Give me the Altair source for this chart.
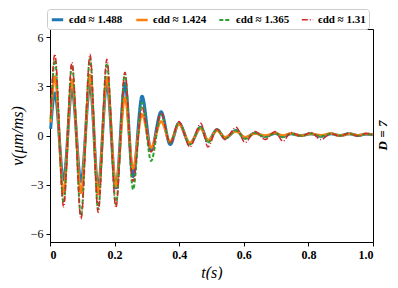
import altair as alt
import pandas as pd

# extremum times (s)
t = [0.002, 0.015, 0.042, 0.068, 0.096, 0.124, 0.149, 0.176, 0.204, 0.232,
     0.257, 0.285, 0.313, 0.344, 0.372, 0.399, 0.433, 0.467, 0.489, 0.517,
     0.542, 0.576, 0.604, 0.635, 0.666, 0.697, 0.721, 0.746, 0.777, 0.808,
     0.839, 0.870, 0.898, 0.926, 0.954, 0.978, 1.0]

v_1488 = [0.4, 2.6, -2.7, 2.8, -2.8, 3.1, -3.2, 3.2, -3.2, 3.2,
          -2.5, 2.4, -0.9, 1.45, -0.55, 0.75, -0.5, 0.5, -0.35, 0.35,
          -0.15, 0.3, -0.15, 0.15, -0.05, 0.12, -0.05, 0.1, 0.0, 0.1,
          -0.05, 0.1, 0.0, 0.1, 0.0, 0.08, 0.05]
v_1424 = [0.8, 3.6, -3.5, 3.4, -3.5, 3.7, -3.6, 3.55, -3.1, 2.3,
          -2.0, 1.3, -0.75, 0.86, -0.37, 0.7, -0.45, 0.45, -0.3, 0.3,
          -0.1, 0.25, -0.1, 0.12, 0.0, 0.15, 0.0, 0.12, 0.0, 0.1,
          0.02, 0.12, 0.0, 0.1, 0.02, 0.1, 0.06]
v_1365 = [1.0, 4.6, -4.1, 4.3, -4.9, 4.7, -4.5, 4.4, -4.2, 3.8,
          -3.3, 2.0, -1.55, 1.3, -0.45, 0.8, -0.55, 0.55, -0.45, 0.4,
          -0.2, 0.3, -0.2, 0.15, -0.1, 0.15, -0.1, 0.1, -0.02, 0.12,
          -0.05, 0.1, 0.0, 0.12, -0.02, 0.1, 0.05]
v_131 = [1.2, 4.96, -4.35, 4.47, -5.1, 4.96, -4.7, 4.65, -4.4, 3.86,
         -2.8, 1.7, -1.0, 1.4, -0.5, 0.85, -0.7, 0.75, -0.7, 0.4,
         -0.25, 0.5, -0.43, 0.25, -0.25, 0.25, -0.35, 0.18, -0.05, 0.18,
         -0.25, 0.12, -0.05, 0.15, -0.05, 0.12, 0.05]

labels = ["ϵdd ≈ 1.488", "ϵdd ≈ 1.424", "ϵdd ≈ 1.365", "ϵdd ≈ 1.31"]
colors = ["#1f77b4", "#ff7f0e", "#2ca02c", "#d62728"]
dashes = [[1, 0], [1, 0], [4, 2], [6, 2, 1, 2]]
widths = [3.0, 1.5, 1.5, 1.5]

rows = []
for k, vals in enumerate([v_1488, v_1424, v_1365, v_131]):
    for ti, vi in zip(t, vals):
        rows.append({"t": ti, "v": vi, "series": labels[k], "order": k})
df = pd.DataFrame(rows)

W, H = 323, 213
serif = "Liberation Serif"

leg = alt.Legend(title=None, orient="none", legendX=-3, legendY=-20,
                 direction="horizontal", symbolType="stroke",
                 symbolSize=130, labelFont=serif, labelFontSize=11,
                 labelFontWeight="bold", columnPadding=8, labelOffset=4,
                 strokeColor="#cccccc", padding=3, cornerRadius=3,
                 fillColor="white", labelLimit=200)

lines = alt.Chart(df).mark_line(interpolate="monotone").encode(
    x=alt.X("t:Q", scale=alt.Scale(domain=[0, 1], nice=False),
            axis=alt.Axis(values=[0, 0.2, 0.4, 0.6, 0.8, 1.0],
                          labelExpr="datum.value == 0 ? '0' : format(datum.value, '.1f')",
                          labelFontWeight="bold", title="t(s)", grid=False)),
    y=alt.Y("v:Q", scale=alt.Scale(domain=[-6.5, 6.5], nice=False),
            axis=alt.Axis(values=[-6, -3, 0, 3, 6], title="v(μm/ms)", grid=False,
                          titlePadding=5)),
    color=alt.Color("series:N", scale=alt.Scale(domain=labels, range=colors),
                    sort=labels, legend=leg),
    strokeDash=alt.StrokeDash("series:N", scale=alt.Scale(domain=labels, range=dashes),
                              sort=labels, legend=leg),
    strokeWidth=alt.StrokeWidth("series:N", scale=alt.Scale(domain=labels, range=widths),
                                sort=labels, legend=leg),
    order="order:Q",
)

side = alt.Chart(pd.DataFrame({"s": ["D = 7"]})).mark_text(
    angle=270, font=serif, fontSize=13, fontStyle="italic", fontWeight="bold",
    color="black"
).encode(x=alt.value(W + 10), y=alt.value(H / 2), text="s:N")

chart = alt.layer(lines, side).properties(
    width=W, height=H,
    padding={"left": 1, "top": 0, "right": 0, "bottom": 0},
).configure_view(
    stroke="black", strokeWidth=1
).configure_axis(
    labelFont=serif, labelFontSize=12, labelColor="black",
    titleFont=serif, titleFontSize=16, titleFontStyle="italic",
    titleFontWeight="normal", titleColor="black",
    domainColor="black", tickColor="black", tickSize=4, labelPadding=3,
)

chart.save("out.html", embed_options={"renderer": "svg", "actions": False})
